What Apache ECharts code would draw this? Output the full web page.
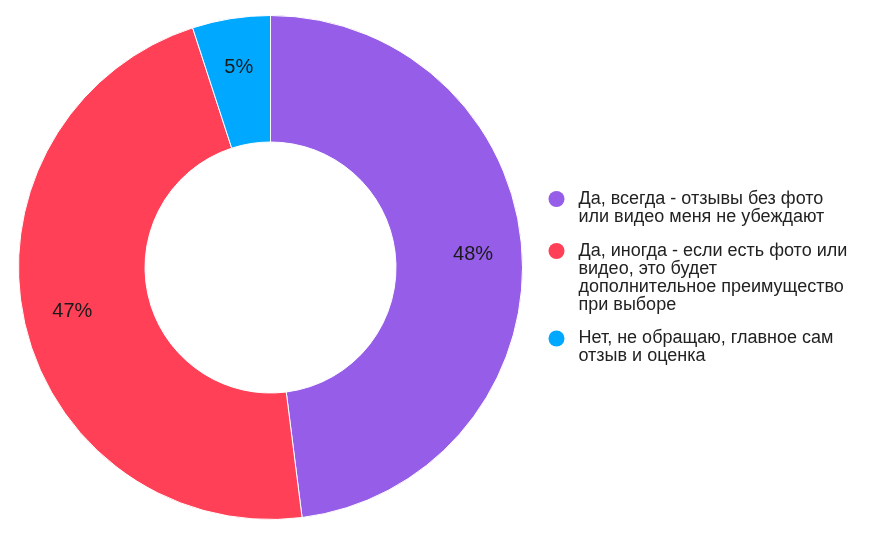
<!DOCTYPE html>
<html>
<head>
<meta charset="utf-8">
<script src="https://cdn.jsdelivr.net/npm/echarts@6/dist/echarts.min.js"></script>
<style>
html,body{margin:0;padding:0;background:#fff;}
#chart{width:893px;height:535px;}
</style>
</head>
<body>
<div id="chart"></div>
<script>
var categories = [
  'Да, всегда - отзывы без фото\nили видео меня не убеждают',
  'Да, иногда - если есть фото или\nвидео, это будет\nдополнительное преимущество\nпри выборе',
  'Нет, не обращаю, главное сам\nотзыв и оценка'
];
var values = [48, 47, 5];
var colors = ['#955DE8', '#FF4057', '#00A9FF'];

var LH = 18;
var legendTops = [172, 188, 311.5];

var chart = echarts.init(document.getElementById('chart'));
var data = categories.map(function (c, i) {
  return { name: c, value: values[i], itemStyle: { color: colors[i] } };
});
var labelData = categories.map(function (c, i) {
  return { name: c, value: values[i] };
});

var legends = categories.map(function (c, i) {
  var n = c.split('\n').length;
  return {
    orient: 'vertical',
    left: 548.5,
    top: legendTops[i],
    padding: 0,
    icon: 'circle',
    itemWidth: 34,
    itemHeight: 16,
    selectedMode: false,
    itemStyle: { borderWidth: 0 },
    data: [c],
    textStyle: {
      fontFamily: 'Liberation Sans, Arial, sans-serif',
      fontSize: 18,
      lineHeight: LH,
      color: '#222',
      padding: [(n - 1) * LH, 0, 0, 0],
      rich: { t: {} }
    }
  };
});

chart.setOption({
  animation: false,
  color: colors,
  legend: legends,
  series: [
    {
      type: 'pie',
      center: [270.5, 267.5],
      radius: [125.5, 252],
      startAngle: 90,
      clockwise: true,
      avoidLabelOverlap: false,
      itemStyle: { borderColor: '#fff', borderWidth: 1 },
      label: { show: false },
      labelLine: { show: false },
      emphasis: { scale: false },
      data: data
    },
    {
      type: 'pie',
      center: [270.5, 267.5],
      radius: [148, 252],
      startAngle: 90,
      clockwise: true,
      silent: true,
      avoidLabelOverlap: false,
      itemStyle: { color: 'rgba(0,0,0,0)', borderWidth: 0 },
      label: {
        show: true,
        position: 'inside',
        formatter: '{c}%',
        fontFamily: 'Liberation Sans, Arial, sans-serif',
        fontSize: 20,
        color: '#1a1a1a'
      },
      labelLine: { show: false },
      data: labelData
    }
  ]
});
</script>
</body>
</html>
